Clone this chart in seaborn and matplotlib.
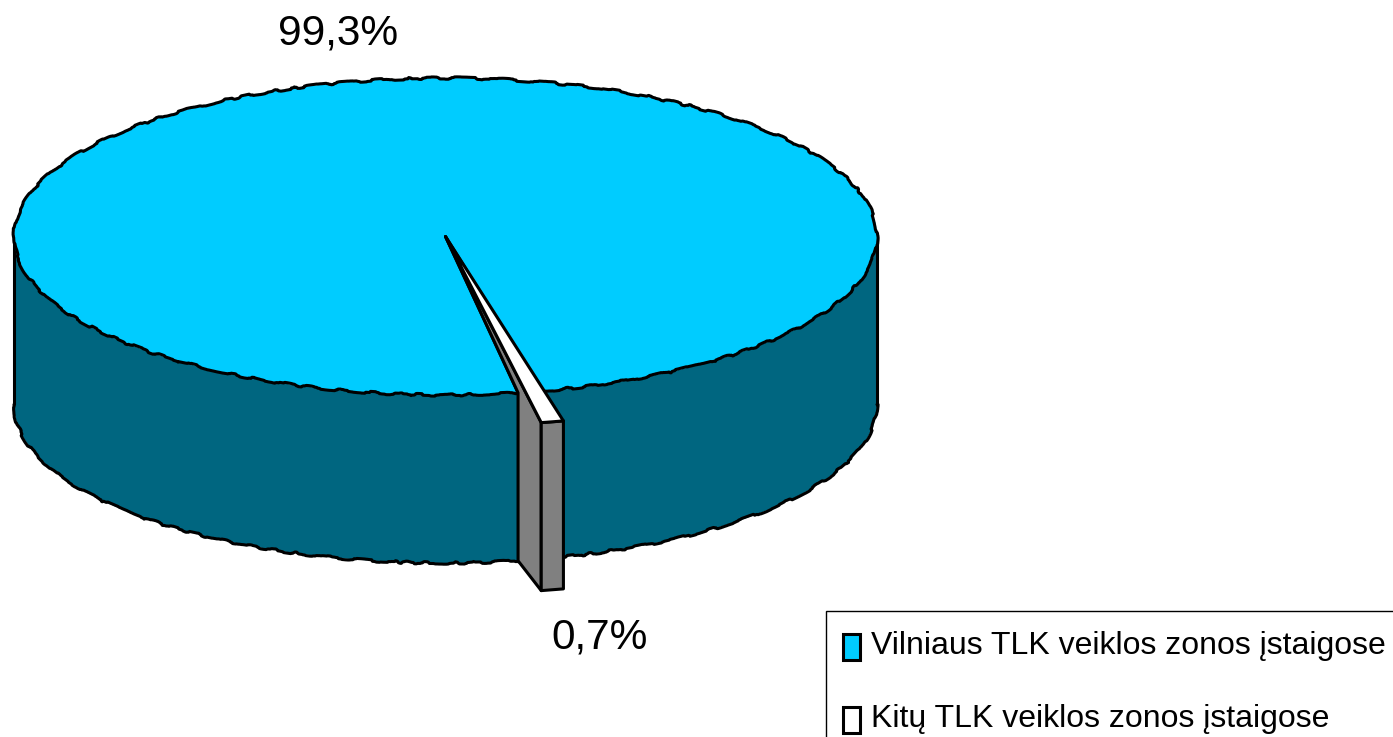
import numpy as np
import matplotlib
matplotlib.use("Agg")
import matplotlib.pyplot as plt
from matplotlib.patches import Patch
from matplotlib.legend_handler import HandlerPatch
import seaborn as sns

# --- data ---
categories = ["Vilniaus TLK veiklos zonos įstaigose", "Kitų TLK veiklos zonos įstaigose"]
values = [99.3, 0.7]
value_labels = ["99,3%", "0,7%"]

# --- styles ---
TOP_COLOURS = ["#00CCFF", "#FFFFFF"]
WALL_COLOURS = ["#006680", "#808080"]
W, H = 1393, 737
CX, CY, RX, RY = 445.5, 236.5, 431.5, 158.5   # top ellipse, pixels
DEPTH = 168 / RY                              # wall height in radius units
LW = 2.2
SLICE_RADIUS = 1.195     # the small slice is drawn pulled out of the rim
BLUE_START = -77.1
SLICE_START = -79.3
GAP_EXTRA = 0.7
SKETCH = dict(scale=1.2, length=130, randomness=30)

sns.set_theme(style="white")
plt.rcParams["font.family"] = ["Liberation Sans", "DejaVu Sans"]

fig = plt.figure(figsize=(W / 100, H / 100), dpi=100)
ax = fig.add_axes([0, 0, 1, 1])

wedges, _ = ax.pie(values, startangle=BLUE_START, radius=1, colors=TOP_COLOURS,
                   wedgeprops=dict(edgecolor="none", linewidth=0))
ax.set_aspect("auto")
ax.set_xlim(-CX / RX, (W - CX) / RX)
ax.set_ylim((CY - H) / RY, CY / RY)
ax.axis("off")

blue, small = wedges
span = values[1] / sum(values) * 360
blue.set_theta2(blue.theta2 - GAP_EXTRA)
small.set_theta1(SLICE_START)
small.set_theta2(SLICE_START + span)
small.set_radius(SLICE_RADIUS)
small.set_edgecolor("black")
small.set_linewidth(LW)
small.set_joinstyle("round")
blue.set_zorder(3)
small.set_zorder(5)


def rim(deg, r=1.0, drop=0.0):
    a = np.radians(deg)
    return np.array([r * np.cos(a), r * np.sin(a) - drop])


# outline of the large slice's top: rim is slightly rough, radial edges straight
arc = np.array([rim(d) for d in np.linspace(blue.theta1, blue.theta2, 721)])
rim_line, = ax.plot(arc[:, 0], arc[:, 1], color="black", lw=LW, zorder=3.2)
rim_line.set_sketch_params(**SKETCH)
ax.plot([arc[0, 0], 0, arc[-1, 0]], [arc[0, 1], 0, arc[-1, 1]], color="black",
        lw=LW, zorder=3.2, solid_joinstyle="round")

# outer wall of the large slice: front half of the rim, swept down by the depth
t = np.linspace(180, 360, 361)
upper = np.array([rim(d) for d in t])
lower = np.array([rim(d, drop=DEPTH) for d in t])
wall = np.vstack([upper, lower[::-1]])
ax.fill(wall[:, 0], wall[:, 1], facecolor=WALL_COLOURS[0], edgecolor="none", zorder=1)
bottom_line, = ax.plot(lower[:, 0], lower[:, 1], color="black", lw=LW, zorder=2)
bottom_line.set_sketch_params(**SKETCH)
for d in (180, 360):
    p, q = rim(d), rim(d, drop=DEPTH)
    ax.plot([p[0], q[0]], [p[1], q[1]], color="black", lw=LW, zorder=2)

# cut face and outer wall of the small slice
cut_rim = rim(blue.theta2)
a0, a1 = rim(SLICE_START, SLICE_RADIUS), rim(SLICE_START + span, SLICE_RADIUS)
a0d, a1d = a0 - [0, DEPTH], a1 - [0, DEPTH]
face = np.array([[0, 0], cut_rim, cut_rim - [0, DEPTH], a0d, a0])
front = np.array([a0, a1, a1d, a0d])
ax.fill(face[:, 0], face[:, 1], facecolor=WALL_COLOURS[1], edgecolor="black",
        linewidth=LW, joinstyle="round", zorder=4)
ax.fill(front[:, 0], front[:, 1], facecolor=WALL_COLOURS[1], edgecolor="black",
        linewidth=LW, joinstyle="round", zorder=4)

# value labels
ax.annotate(value_labels[0], xy=(338 / W, 1 - 34 / H), xycoords="figure fraction",
            ha="center", va="center", fontsize=30.5, color="black", zorder=6)
ax.annotate(value_labels[1], xy=(599.5 / W, 1 - 638 / H), xycoords="figure fraction",
            ha="center", va="center", fontsize=30.5, color="black", zorder=6)

# legend
handles = [Patch(facecolor=c, edgecolor="black", linewidth=LW) for c in TOP_COLOURS]
leg = fig.legend(handles, categories, loc="upper left",
                 bbox_to_anchor=(826 / W, 1 - 611 / H), borderaxespad=0,
                 fontsize=23.0, frameon=True, fancybox=False, framealpha=1,
                 edgecolor="black", labelspacing=1.34, handlelength=0.426,
                 handleheight=0.49, handletextpad=0.345, borderpad=0.64,
                 labelcolor="black",
                 handler_map={Patch: HandlerPatch(xpad=-0.106, ypad=-0.25)})
leg.get_frame().set_linewidth(1.0)

fig.savefig("out.png", dpi=100, facecolor="white")
